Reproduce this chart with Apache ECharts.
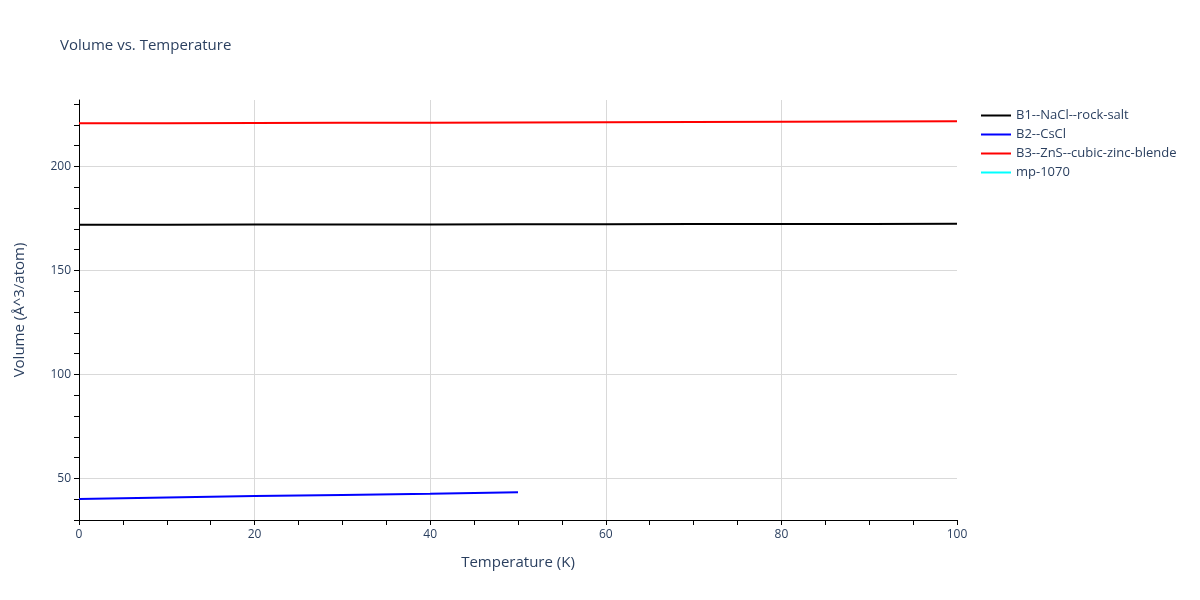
<!DOCTYPE html>
<html>
<head>
<meta charset="utf-8">
<script src="https://cdn.jsdelivr.net/npm/echarts@6/dist/echarts.min.js"></script>
<style>html,body{margin:0;padding:0;background:#fff}#c{width:1200px;height:600px}</style>
</head>
<body>
<div id="c"></div>
<script>
const temps = [0, 10, 20, 30, 40, 50, 60, 70, 80, 90, 100];
const b1Vol = [172.0, 172.03, 172.07, 172.12, 172.17, 172.22, 172.27, 172.32, 172.37, 172.41, 172.45];
const b2Temps = [0, 10, 20, 30, 40, 50];
const b2Vol = [40.05, 40.8, 41.5, 42.05, 42.6, 43.3];
const b3Vol = [220.8, 220.85, 220.92, 221.0, 221.1, 221.2, 221.3, 221.4, 221.5, 221.65, 221.8];
const mpTemps = [];
const mpVol = [];
const seriesNames = ['B1--NaCl--rock-salt', 'B2--CsCl', 'B3--ZnS--cubic-zinc-blende', 'mp-1070'];
const seriesColors = ['#000000', '#0000ff', '#ff0000', '#00ffff'];
const yTickValues = [30, 40, 50, 60, 70, 80, 90, 100, 110, 120, 130, 140, 150, 160, 170, 180, 190, 200, 210, 220, 230];
const yLabelValues = [50, 100, 150, 200];

const pairs = (xs, ys) => xs.map((x, i) => [x, ys[i]]);
const seriesData = [pairs(temps, b1Vol), pairs(b2Temps, b2Vol), pairs(temps, b3Vol), pairs(mpTemps, mpVol)];

const txt = '#2a3f5f';
const font = 'Open Sans';
const clear = 'rgba(0,0,0,0)';
const chart = echarts.init(document.getElementById('c'), null, {renderer: 'canvas'});
chart.setOption({
  animation: false,
  textStyle: {fontFamily: font},
  title: {
    text: 'Volume vs. Temperature', left: 55, top: 33,
    textStyle: {fontFamily: font, fontSize: 15, fontWeight: 'normal', color: txt}
  },
  legend: {
    orient: 'vertical', left: 976, top: 104,
    icon: 'rect', itemWidth: 30, itemHeight: 2, itemGap: 6,
    textStyle: {fontFamily: font, fontSize: 13, color: txt},
    data: seriesNames
  },
  grid: {left: 79, right: 243, top: 100, bottom: 80, containLabel: false},
  xAxis: {
    type: 'value', min: 0, max: 100, interval: 20,
    name: 'Temperature (K)', nameLocation: 'middle', nameGap: 35,
    nameTextStyle: {fontFamily: font, fontSize: 15, color: txt},
    axisLine: {show: true, lineStyle: {color: '#000', width: 1}},
    axisTick: {show: true, length: 5, lineStyle: {color: '#000'}},
    minorTick: {show: true, splitNumber: 4, length: 5, lineStyle: {color: '#000'}},
    axisLabel: {fontFamily: font, fontSize: 12, color: txt, margin: 9},
    splitLine: {show: true, showMinLine: false, showMaxLine: false, lineStyle: {color: '#d9d9d9', width: 1}}
  },
  yAxis: {
    type: 'value', min: 30, max: 232, interval: 10,
    name: 'Volume (Å^3/atom)', nameLocation: 'middle', nameGap: 52,
    nameTextStyle: {fontFamily: font, fontSize: 15, color: txt},
    axisLine: {show: true, lineStyle: {color: '#000', width: 1}},
    axisTick: {show: true, length: 5, lineStyle: {color: '#000'}, customValues: yTickValues},
    axisLabel: {fontFamily: font, fontSize: 12, color: txt, margin: 8, customValues: yLabelValues,
      formatter: v => (Math.abs(v % 50) < 1e-9 ? String(v) : '')},
    splitLine: {show: true, showMinLine: false, showMaxLine: false,
      lineStyle: {color: [clear, '#d9d9d9', clear, clear, clear], width: 1}}
  },
  series: seriesNames.map((n, i) => ({
    name: n, type: 'line', data: seriesData[i], showSymbol: false, symbol: 'none',
    lineStyle: {color: seriesColors[i], width: 2}, itemStyle: {color: seriesColors[i]},
    smooth: false, z: 3
  }))
});
</script>
</body>
</html>
